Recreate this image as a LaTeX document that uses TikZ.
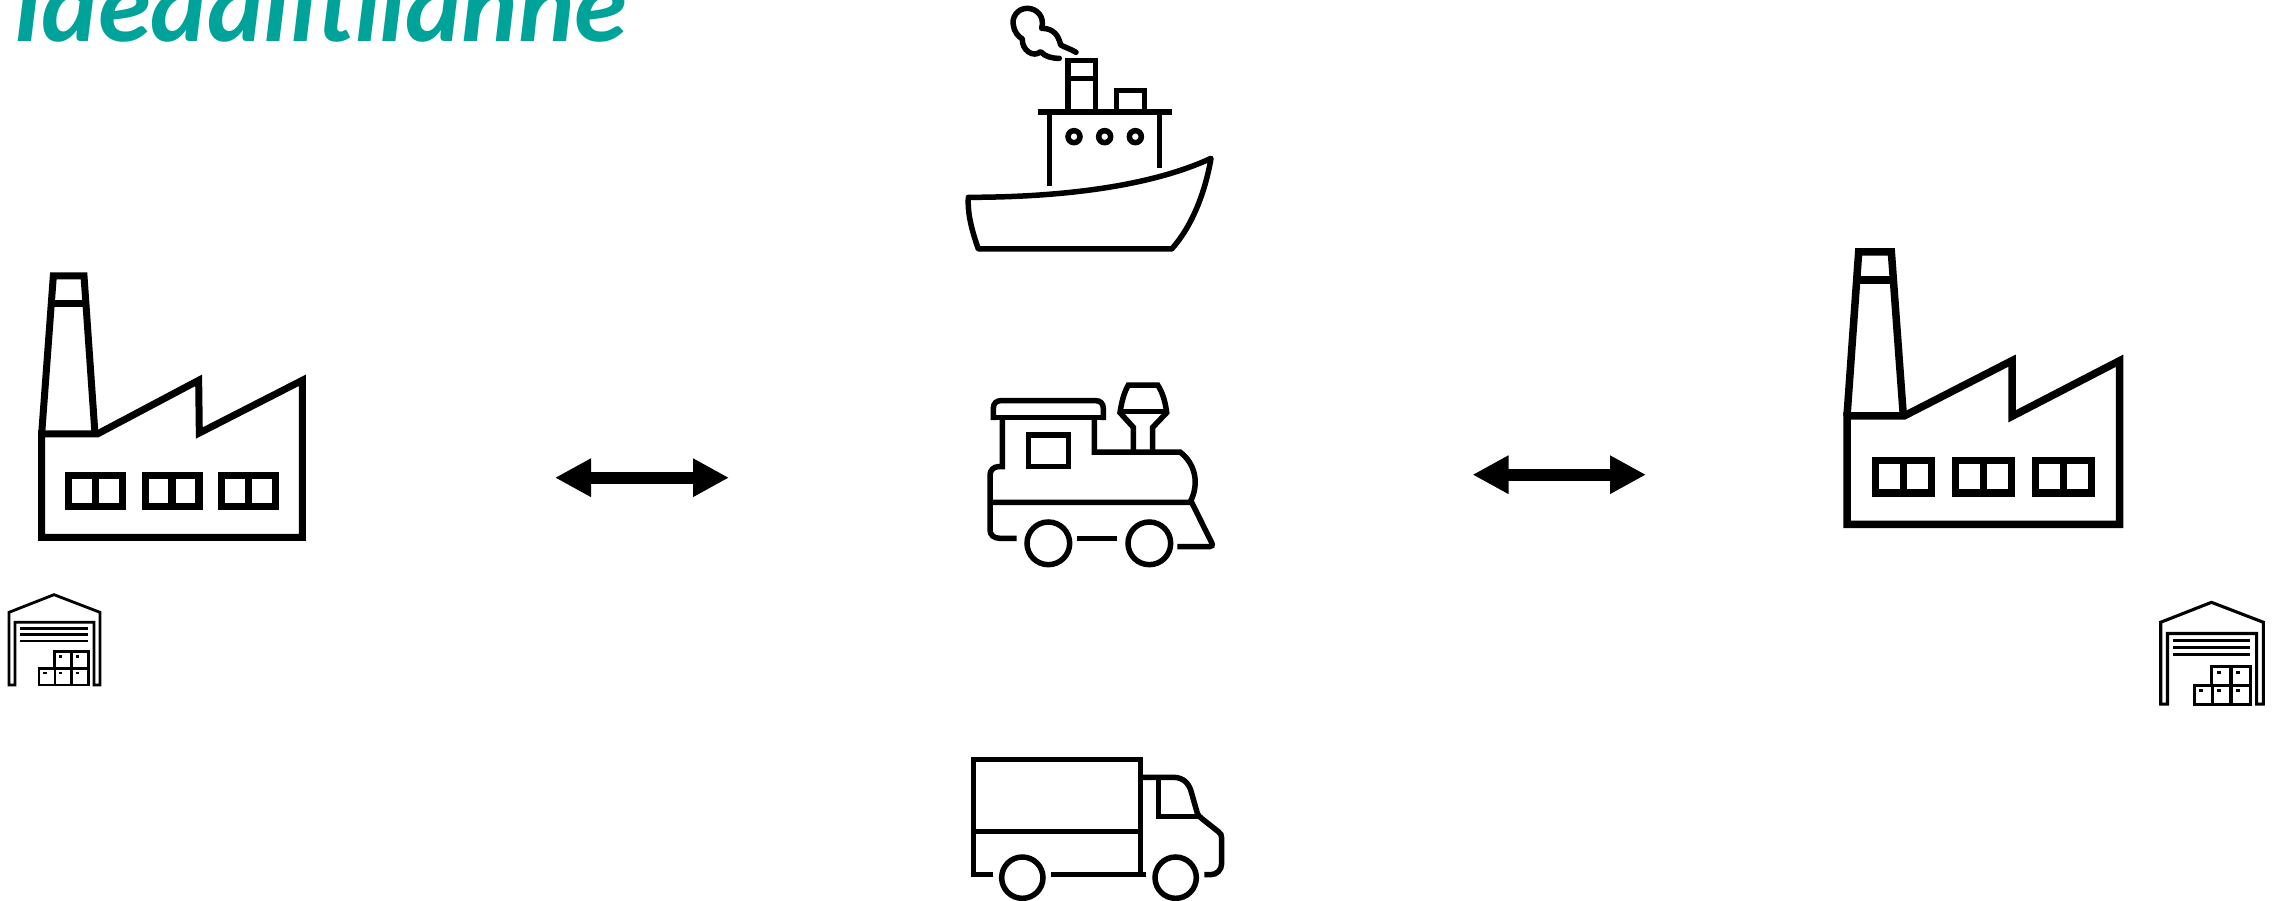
\documentclass[tikz,border=0pt]{standalone}
\usepackage{fontspec}
\setmainfont{Carlito}
\usetikzlibrary{arrows.meta}
\definecolor{titleteal}{RGB}{0,163,154}
\tikzset{
  icon/.style={draw=black,line width=#1,line join=miter,line cap=butt,fill=none},
  icon/.default=5.5pt,
  dblarrow/.style={line width=12pt,{Triangle[length=36pt,width=36pt]}-{Triangle[length=36pt,width=36pt]}},
  titletext/.style={anchor=base west,inner sep=0pt,text=titleteal,font=\fontsize{107}{107}\selectfont\bfseries\itshape}
}
\begin{document}
\begin{tikzpicture}[x=1pt,y=-1pt]
\useasboundingbox (0,0) rectangle (2280,901);
\clip (0,0) rectangle (2280,901);
\fill[white] (0,0) rectangle (2280,901);

\node[titletext] (title) at (13,42) {Ideaalitilanne};

% left factory (zoom coordinates)
\begin{scope}[shift={(20,260)},scale=1/3]
\draw[icon=7pt] (65,832) -- (847,832) -- (847,361) -- (538,519) -- (536,361) -- (232,522) -- (65,522) -- cycle;
\draw[icon=7pt] (65,522) -- (100,48) -- (192,48) -- (225,522);
\draw[icon=7pt] (95,130) -- (195,130);
\foreach \xa in {145,375,605}{
  \draw[icon=7pt] (\xa,647) rectangle ++(162,92);
  \draw[icon=7pt] (\xa+81,647) -- (\xa+81,739);
}
\end{scope}

% right factory
\begin{scope}[shift={(1830,240)},scale=1/3]
\draw[icon=7.5pt] (51,853) -- (869,853) -- (869,362) -- (546,529) -- (546,362) -- (222,528) -- (51,528) -- cycle;
\draw[icon=7.5pt] (51,528) -- (86,36) -- (184,36) -- (220,528);
\draw[icon=7.5pt] (85,120) -- (190,120);
\foreach \xa in {136,376,617}{
  \draw[icon=7.5pt] (\xa,661) rectangle ++(168,98);
  \draw[icon=7.5pt] (\xa+84,661) -- (\xa+84,759);
}
\end{scope}

% warehouses
\foreach \sx/\sy/\sc/\lw in {0/580/1/2.8pt, 2150.6/585.8/1.127/3.1pt}{
\begin{scope}[shift={(\sx,\sy)},scale=\sc/3]
\draw[icon=\lw] (27,315) -- (27,97) -- (162,44) -- (300,97) -- (300,315) -- (282,315) -- (282,127) -- (45,127) -- (45,315) -- cycle;
\foreach \ya in {146,164,183} \draw[icon=\lw] (60,\ya) -- (265,\ya);
\draw[icon=\lw] (117,315) -- (117,265) -- (163,265) -- (163,214) -- (265,214) -- (265,315) -- cycle;
\draw[icon=\lw] (163,265) -- (265,265) (165,265) -- (165,315) (214,214) -- (214,315);
\foreach \xa/\ya in {182/230,232/230,135/279,182/279,232/279}
  \draw[icon=\lw] (\xa-5,\ya) -- (\xa+5,\ya);
\end{scope}
}

% ship
\begin{scope}[shift={(950,0)},scale=1/3]
\draw[icon,line join=round] (55,592) .. controls (330,592) and (600,560) .. (783,475) .. controls (765,580) and (725,680) .. (665,747) -- (85,747) .. controls (65,690) and (52,640) .. cycle;
\draw[icon] (263,336) -- (665,336);
\draw[icon] (299,336) -- (299,558);
\draw[icon] (629,336) -- (629,505);
\draw[icon] (354,336) -- (354,182) -- (437,182) -- (437,336);
\draw[icon] (354,235) -- (437,235);
\draw[icon] (500,336) -- (500,272) -- (583,272) -- (583,336);
\foreach \xa in {372,464,556} \draw[icon] (\xa,410) circle[radius=18];
\draw[icon,line cap=round,line join=round] (378,157) .. controls (362,147) and (345,142) .. (332,135) .. controls (325,105) and (310,85) .. (275,85) .. controls (285,50) and (260,25) .. (232,25) .. controls (200,25) and (185,55) .. (190,75) .. controls (192,95) and (205,110) .. (217,117) .. controls (215,150) and (250,175) .. (272,155) .. controls (285,170) and (305,175) .. (328,175);
\end{scope}

% train
\begin{scope}[shift={(970,370)},scale=1/3]
\draw[icon] (70,150) -- (70,115) .. controls (70,100) and (80,92) .. (92,92) -- (378,92) .. controls (390,92) and (400,100) .. (400,115) -- (400,150);
\draw[icon] (62,143) -- (408,143);
\draw[icon] (97,143) -- (97,290) -- (85,290) .. controls (70,290) and (60,302) .. (60,315) -- (60,480) .. controls (60,495) and (72,505) .. (90,505) -- (140,505);
\draw[icon] (373,143) -- (373,246) -- (630,246) .. controls (675,280) and (690,340) .. (660,397);
\draw[icon] (60,397) -- (665,397) -- (725,518) .. controls (729,526) and (725,530) .. (718,530) -- (622,530);
\draw[icon] (175,195) rectangle (295,290);
\draw[icon] (490,246) -- (490,172) -- (450,128) .. controls (455,95) and (462,68) .. (475,45) -- (563,45) .. controls (578,68) and (586,95) .. (590,128) -- (548,172) -- (548,246);
\draw[icon] (450,125) -- (590,125);
\foreach \xa in {235,538} \draw[icon] (\xa,520) circle[radius=64];
\draw[icon] (320,505) -- (440,505);
\end{scope}

% truck
\begin{scope}[shift={(960,690)},scale=1/3]
\draw[icon] (100,554) -- (40,554) -- (40,208) -- (542,208) -- (542,554);
\draw[icon] (40,424) -- (542,424);
\draw[icon] (273,554) -- (558,554);
\foreach \xa in {187,647} \draw[icon] (\xa,563) circle[radius=62];
\draw[icon] (542,262) -- (640,262) .. controls (670,262) and (688,280) .. (695,310) -- (712,370) .. controls (716,380) and (725,385) .. (775,425) .. controls (782,430) and (785,435) .. (785,445) -- (785,520) .. controls (785,540) and (770,554) .. (752,554) -- (733,554);
\draw[icon] (595,262) -- (595,380) -- (718,380);
\end{scope}

% double arrows
\coordinate (a1) at (555,477.7);
\coordinate (b1) at (729,477.7);
\coordinate (a2) at (1472.5,474.7);
\coordinate (b2) at (1646,474.7);
\draw[dblarrow] (a1) -- (b1);
\draw[dblarrow] (a2) -- (b2);
\end{tikzpicture}
\end{document}
